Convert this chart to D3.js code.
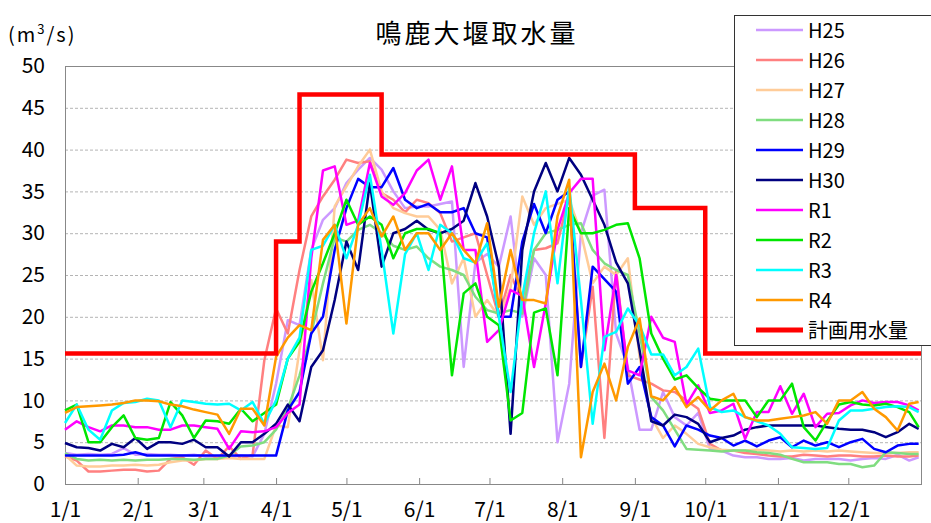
<!DOCTYPE html>
<html>
<head>
<meta charset="utf-8">
<script src="https://cdn.jsdelivr.net/npm/d3@7"></script>
<style>
body { margin: 0; background: #fff; }
svg { display: block; font-family: "Noto Sans CJK JP", "Noto Sans", sans-serif; }
</style>
</head>
<body>
<svg id="chart" width="931" height="523"></svg>
<script>
/* globals d3 */

//Day of year (0 = 1/1) for every reading
var days = [0,5,10,15,20,25,30,35,40,45,
            50,55,60,65,70,75,80,85,90,95,
            100,105,110,115,120,125,130,135,140,145,
            150,155,160,165,170,175,180,185,190,195,
            200,205,210,215,220,225,230,235,240,245,
            250,255,260,265,270,275,280,285,290,295,
            300,305,310,315,320,325,330,335,340,345,
            350,355,360,364];

//Intake (m3/s) for each year
var h25 = [3.7,3.5,3.6,3.5,3.6,4.3,3.5,3.6,3.5,3.5,
           3.4,3.5,3.3,3.3,3.2,3.4,3.3,6.0,12,19.6,
           19,28,31.6,33,36,37.6,39,37.6,35,33,
           33.2,33.2,33.5,33.8,14,26.5,27.5,26,32,20,
           27,25,5,12,30,34.5,35.2,18,14,6.5,
           6.5,11,8,7,8.5,4.2,4,3.4,3.2,3.2,
           3.0,3.0,3.1,2.8,3.0,3.0,3.0,2.8,3.0,3.1,
           3.0,3.5,2.8,3.2];
var h26 = [3.3,2.8,1.5,1.5,1.6,1.7,1.7,1.5,1.6,3.0,
           3.2,2.3,4.0,3.0,4.5,3.0,3.5,14.8,21,18,
           25.6,32,34.4,36.4,38.8,38.4,38.6,34.8,34,32.5,
           34,33.6,32.4,29,29.5,30,25,20,25,22,
           28,28.2,28.8,34.5,14,23.6,5.5,25.6,13,12.5,
           12,11.2,11,10,9,4.8,4,4,3.7,3.6,
           3.4,3.3,3.3,3.5,3.4,3.3,3.4,3.4,3.3,3.3,
           3.4,3.3,3.3,3.4];
var h27 = [3.5,2.2,2.1,2.1,2.2,2.2,2.3,2.2,2.3,2.6,
           2.8,2.8,3.0,3.0,3.1,3.0,3.0,3.0,7,6.8,
           16,24.4,14.8,33.2,35.6,38,40,35,33,32.4,
           32,32,30.4,24,27,20,22,20,23.5,34.4,
           31,33,33.5,34,30,24,26,25,27,15.2,
           8,5.5,7,6,4.8,4.4,4.1,4.0,4.0,4.1,
           4.0,3.9,4.0,3.9,4.0,3.9,4.0,3.9,3.8,3.7,
           3.7,3.7,3.8,3.8];
var h28 = [3.7,3.0,2.8,2.9,2.8,2.9,2.8,2.9,2.9,3.0,
           3.0,2.9,3.0,3.0,3.4,4.5,4.6,5.0,6.5,9,
           13,18,24,29.5,29,30.4,31,30,28.5,28,
           28.4,27,26,25.6,25,22.4,20.8,20.4,20.8,20.4,
           28,30,30.4,31,31.2,28,26.4,25.6,25,18,
           10.4,8.8,6.5,4.2,4.1,4.0,3.9,4.0,4.0,3.8,
           3.7,3.5,3.0,2.6,2.6,2.6,2.4,2.4,2.0,2.2,
           3.8,3.7,3.6,3.6];
var h29 = [3.4,3.4,3.4,3.4,3.4,3.5,3.8,3.4,3.4,3.4,
           3.4,3.4,3.4,3.4,3.4,3.4,3.4,3.4,3.4,8.8,
           11,18,20,28,33,36.5,35.5,35.5,37.8,34,
           33,33.5,32.5,32.5,33,30,29.5,20,20,29,
           33.5,30,34,35,14,26,24.5,23,12,14,
           8,7,4.5,7,6.5,5.8,5.5,4.6,5.2,4.5,
           5.2,5.6,4.4,5.2,4.6,5,4.4,5,5.4,4.2,
           3.8,4.6,4.8,4.8];
var h30 = [4.9,4.4,4.3,4.0,4.8,4.4,5.5,4.2,5.0,5.0,
           4.8,5.3,4.4,4.4,3.3,5.0,5.0,6.0,7.2,9.5,
           7.5,14,16,22,29,25.6,36,26,30,30.5,
           31.5,30.4,30,30.5,31.5,36,32,26,6,28,
           35,38.4,35,39,37,34,31,26.5,24,16,
           7.5,7,8.3,8,7.2,5,5.5,5.8,6.5,6.8,
           7,7,7,7,7,6.8,6.6,6.5,6.5,6.2,
           5.6,6.2,7.2,6.6];
var r1 = [6.5,7.5,6.8,6.3,7.0,7.0,6.8,6.8,6.5,6.5,
          7.0,7.0,6.8,6.6,4.2,6.3,6.2,6.3,6.8,8.5,
          9.5,27,37.5,38,31,31.5,38.4,34.4,33.4,34.8,
          37.5,38.8,34,38,28,28,17,18.4,23.2,22.5,
          14,21.6,30.4,34.8,36.5,36.5,16,25,13.6,13,
          20,17.5,17,9.5,11.8,8.5,8.8,9.6,5.4,8.6,
          8.6,11.7,8.4,10.8,6.8,8.4,8.5,9.4,10,9.7,
          9.8,9.8,9.4,8.8];
var r2 = [8.8,9.5,5.0,5.0,6.8,8.2,5.5,5.3,5.5,9.8,
          8.2,5.5,7.6,7.5,7.2,9.0,7.5,8.5,9.5,15,
          17,23,26.4,30,34,31,32,31,27,30,
          30.5,30.5,30,13,22.8,24,20,19,7.6,8.5,
          20.5,21,13,33,30,30,30.4,31,31.2,27,
          18,15,12.5,13,11.5,10.2,10,10,10,8,
          10,10,12,6.8,5.2,7.5,9.5,9.8,9.5,9.4,
          9.6,9.2,8.6,6.8];
var r3 = [7.3,9.5,6.5,5.3,8.8,9.7,9.8,10.2,10,6.8,
          10,9.8,9.6,9.5,9.6,8.8,9.8,7.2,10,15,
          17.5,28,28.5,31,27,31,37,28,18,27.5,
          30,25.6,31,30,27,26.5,28.8,20,11,22.4,
          30,35,24,35.6,22,7.2,17.6,18.2,21,19,
          15.5,15.5,13,14,16.2,9.2,8.6,8.8,8,7.5,
          7,6,4.4,4.3,4.2,4.3,7.6,8.8,8.8,9,
          9.2,9.3,9.2,8.6];
var r4 = [8.5,9.2,9.3,9.4,9.5,9.7,10.0,10.0,9.9,9.5,
          9.3,8.9,8.6,8.3,6.0,9.0,9.0,7.0,15.2,17.5,
          19,18.4,29.2,31,19.2,31,33,29.6,32,28,
          30,30,28,30,28,26.4,31.2,21.2,28,22,
          22,21.6,32,36.4,3.2,11,14.4,10,16.4,19.8,
          10.5,10,11.6,9.2,10.4,8.8,10,10.8,8,7.6,
          7.6,7.8,8,8.2,8.6,7.2,10,10,11,9,
          8,6.4,9.6,9.8];

var seriesNames = ["H25","H26","H27","H28","H29","H30","R1","R2","R3","R4"];
var seriesValues = [h25,h26,h27,h28,h29,h30,r1,r2,r3,r4];
var seriesColors = ["#cc99ff","#ff8080","#ffcc99","#80dd80","#0000ff",
                    "#000080","#ff00ff","#00e600","#00ffff","#ff9900"];

//Planned intake (計画用水量): start day of each step and its value
var planStart = [0,90,100,135,243,273,365];
var planValue = [15.6,29,46.6,39.4,33,15.6,15.6];

var monthDays = [0,31,59,90,120,151,181,212,243,273,304,334];
var monthLabels = ["1/1","2/1","3/1","4/1","5/1","6/1","7/1","8/1","9/1","10/1","11/1","12/1"];
var yTicks = [0,5,10,15,20,25,30,35,40,45,50];

var svg = d3.select("#chart");
var margin = {top: 66, right: 10, bottom: 39, left: 65};
var width = 931 - margin.left - margin.right;
var height = 523 - margin.top - margin.bottom;

var x = d3.scaleLinear().domain([0,365]).range([0,width]);
var y = d3.scaleLinear().domain([0,50]).range([height,0]);

var g = svg.append("g")
    .attr("transform","translate("+margin.left+","+margin.top+")");

//dashed grid
var grid = g.append("g")
    .call(d3.axisLeft(y).tickValues(yTicks.slice(1,-1)).tickSize(-width).tickFormat(""));
grid.select(".domain").remove();
grid.selectAll("line")
    .attr("stroke","#b4b4b4")
    .attr("stroke-dasharray","3,2");

//y labels
var yax = g.append("g")
    .call(d3.axisLeft(y).tickValues(yTicks).tickSize(0).tickPadding(20));
yax.select(".domain").remove();
yax.selectAll("text")
    .attr("font-family","Noto Sans CJK JP")
    .attr("font-size",21)
    .attr("fill","#000");

//x axis, ticks pointing up into the plot
var xax = g.append("g")
    .attr("transform","translate(0,"+height+")")
    .call(d3.axisBottom(x)
          .tickValues(monthDays)
          .tickFormat(function(d,i){ return monthLabels[i]; })
          .tickSize(-6)
          .tickPadding(18));
xax.select(".domain").remove();
xax.selectAll("line").attr("stroke","#888");
xax.selectAll("text")
    .attr("font-family","Noto Sans CJK JP")
    .attr("font-size",21)
    .attr("fill","#000");

//plot frame
g.append("rect")
    .attr("x",0.5)
    .attr("y",0.5)
    .attr("width",width)
    .attr("height",height)
    .attr("fill","none")
    .attr("stroke","#888");

var line = d3.line()
    .x(function(d,i){ return x(days[i]); })
    .y(function(d){ return y(d); });

g.selectAll(".series")
    .data(seriesValues)
    .enter()
    .append("path")
    .attr("class","series")
    .attr("d",line)
    .attr("fill","none")
    .attr("stroke",function(d,i){ return seriesColors[i]; })
    .attr("stroke-width",2.5)
    .attr("stroke-linejoin","round");

var planLine = d3.line()
    .curve(d3.curveStepAfter)
    .x(function(d){ return x(d[0]); })
    .y(function(d){ return y(d[1]); });

g.append("path")
    .datum(d3.zip(planStart,planValue))
    .attr("d",planLine)
    .attr("fill","none")
    .attr("stroke","#ff0000")
    .attr("stroke-width",4.5);

//title and unit
svg.append("text")
    .attr("x",477)
    .attr("y",43)
    .attr("text-anchor","middle")
    .attr("font-size",26)
    .attr("letter-spacing",3)
    .text("鳴鹿大堰取水量");

var unit = svg.append("text")
    .attr("x",8)
    .attr("y",42)
    .attr("font-size",20)
    .attr("letter-spacing",2);
unit.append("tspan").text("(m");
unit.append("tspan").attr("font-size",13).attr("dy",-8).text("3");
unit.append("tspan").attr("dy",8).text("/s)");

//legend
var legend = svg.append("g");
legend.append("rect")
    .attr("x",734.5)
    .attr("y",15.5)
    .attr("width",220)
    .attr("height",330)
    .attr("fill","#fff")
    .attr("stroke","#333");

var legendNames = seriesNames.concat(["計画用水量"]);
var legendColors = seriesColors.concat(["#ff0000"]);

var rows = legend.selectAll(".row")
    .data(legendNames)
    .enter()
    .append("g")
    .attr("class","row")
    .attr("transform",function(d,i){ return "translate(0,"+(30+30*i)+")"; });
rows.append("line")
    .attr("x1",756)
    .attr("x2",803)
    .attr("stroke",function(d,i){ return legendColors[i]; })
    .attr("stroke-width",function(d,i){ return i===10 ? 5 : 2.5; });
rows.append("text")
    .attr("x",808)
    .attr("y",8)
    .attr("font-size",20)
    .text(function(d){ return d; });
</script>
</body>
</html>
